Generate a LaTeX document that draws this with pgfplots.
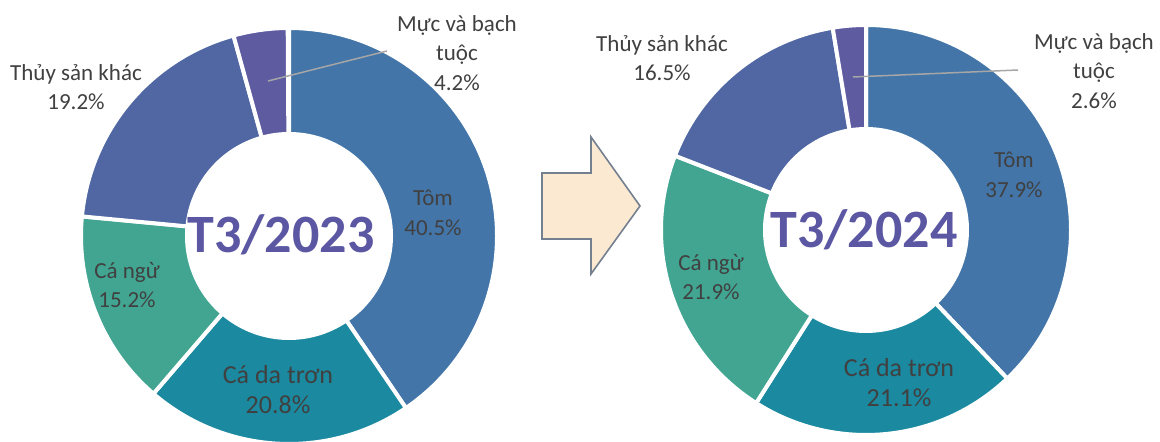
\documentclass[border=0pt]{standalone}
\usepackage{pgfplots}
\pgfplotsset{compat=1.18}
\usepackage{fontspec}
\setmainfont{Carlito}

\definecolor{cTom}{HTML}{4375A8}
\definecolor{cDaTron}{HTML}{1B89A0}
\definecolor{cNgu}{HTML}{41A592}
\definecolor{cKhac}{HTML}{5067A3}
\definecolor{cMuc}{HTML}{5E5BA1}
\definecolor{txt}{HTML}{404040}
\definecolor{ctr}{HTML}{5B57A2}
\definecolor{arrfill}{HTML}{FCE9D1}
\definecolor{arrdraw}{HTML}{74808F}

% donut: cx, cy, outer r, inner r, {value/colour,...} clockwise from 12 o'clock
\newcommand{\donut}[5]{%
  \xdef\angA{90}%
  \foreach \v/\c in {#5}{%
    \pgfmathsetmacro\angB{\angA-3.6*\v}%
    \pgfmathsetmacro\xa{#1+#3*cos(\angA)}%
    \pgfmathsetmacro\ya{#2+#3*sin(\angA)}%
    \pgfmathsetmacro\xb{#1+#4*cos(\angB)}%
    \pgfmathsetmacro\yb{#2+#4*sin(\angB)}%
    \edef\tmp{\noexpand\filldraw[fill=\c, draw=white, line width=4bp]
      (axis cs:\xa,\ya) arc[start angle=\angA, end angle=\angB, radius=#3bp]
      -- (axis cs:\xb,\yb) arc[start angle=\angB, end angle=\angA, radius=#4bp] -- cycle;}%
    \tmp
    \xdef\angA{\angB}%
  }%
}

\begin{document}
\begin{tikzpicture}[
  lbl/.style={text=txt, align=center, font=\fontsize{23bp}{29.5bp}\selectfont},
  big/.style={text=txt, align=center, font=\fontsize{26bp}{30bp}\selectfont},
  ctrlbl/.style={text=ctr, font=\fontsize{54bp}{60bp}\selectfont\bfseries},
]
\begin{axis}[
  scale only axis, x=1bp, y=1bp,
  xmin=0, xmax=1160, ymin=0, ymax=442,
  hide axis,
]
% T3/2023: Tôm, Cá da trơn, Cá ngừ, Thủy sản khác, Mực và bạch tuộc
\donut{289}{206}{208}{102}{40.5/cTom, 20.8/cDaTron, 15.2/cNgu, 19.2/cKhac, 4.2/cMuc}
% T3/2024
\donut{866}{212}{205}{101}{37.9/cTom, 21.1/cDaTron, 21.9/cNgu, 16.5/cKhac, 2.6/cMuc}

% leader lines
\draw[gray!70, line width=1.5bp] (axis cs:268,361) -- (axis cs:387,391);
\draw[gray!70, line width=1.5bp] (axis cs:853,365) -- (axis cs:1018,372);

% arrow
\filldraw[fill=arrfill, draw=arrdraw, line width=1.6bp, line join=miter]
  (axis cs:542,269) -- (axis cs:591,269) -- (axis cs:591,305) -- (axis cs:640,236)
  -- (axis cs:591,168) -- (axis cs:591,203) -- (axis cs:542,203) -- cycle;

% labels, left
\node[ctrlbl] at (axis cs:281,207) {T3/2023};
\node[lbl] at (axis cs:433,229) {Tôm\\40.5\%};
\node[big] at (axis cs:278,52) {Cá da trơn\\20.8\%};
\node[lbl] at (axis cs:127,157) {Cá ngừ\\15.2\%};
\node[lbl] at (axis cs:76,355) {Thủy sản khác\\19.2\%};
\node[lbl] at (axis cs:457,389) {Mực và bạch\\tuộc\\4.2\%};

% labels, right
\node[ctrlbl] at (axis cs:864,212) {T3/2024};
\node[lbl] at (axis cs:1014,267) {Tôm\\37.9\%};
\node[big] at (axis cs:899,59) {Cá da trơn\\21.1\%};
\node[lbl] at (axis cs:711,165) {Cá ngừ\\21.9\%};
\node[lbl] at (axis cs:662,384) {Thủy sản khác\\16.5\%};
\node[lbl] at (axis cs:1094,371) {Mực và bạch\\tuộc\\2.6\%};
\end{axis}
\pgfresetboundingbox
\path[use as bounding box] (current axis.south west) rectangle (current axis.north east);
\end{tikzpicture}
\end{document}
